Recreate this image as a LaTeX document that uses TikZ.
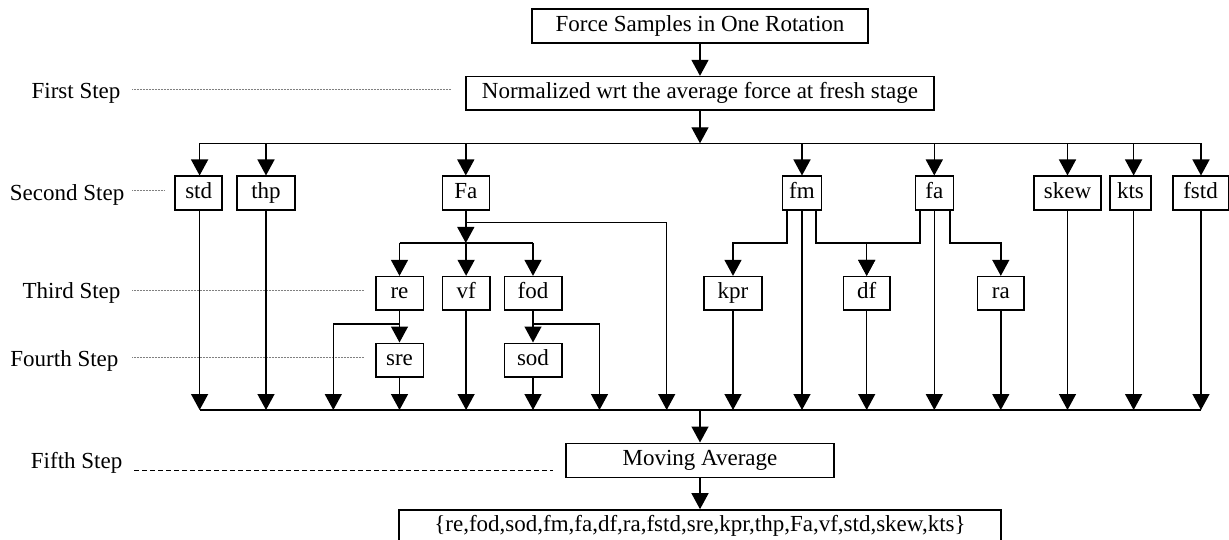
\documentclass[tikz,border=0pt]{standalone}
\usepackage{fontspec}
\setmainfont{Liberation Serif}
\usetikzlibrary{arrows.meta,calc}
\begin{document}
\begin{tikzpicture}[x=1pt,y=-1pt,
  box/.style={draw,line width=1.6pt,fill=white,inner sep=0pt,minimum height=34pt,
    text height=16pt,text depth=5pt,font=\fontsize{23}{26}\selectfont},
  lbl/.style={inner sep=0pt,anchor=east,text height=16pt,text depth=5pt,font=\fontsize{23}{26}\selectfont},
  wire/.style={line width=1.4pt},
  arr/.style={line width=1.4pt,-{Triangle[width=17pt,length=16pt]}},
  dotline/.style={gray,line width=0.7pt,dash pattern=on 0.6pt off 0.9pt},
  dashline/.style={line width=0.9pt,dash pattern=on 4.7pt off 3.3pt}]
\useasboundingbox (0,0) rectangle (1229,540);
% main column
\node[box,minimum width=336pt] (force) at (700,26.3) {Force Samples in One Rotation};
\node[box,minimum width=468pt,minimum height=33.3pt] (norm) at (700,93.3) {Normalized wrt the average force at fresh stage};
% second row
\node[box,minimum width=47pt] (std) at (198.7,193.3) {std};
\node[box,minimum width=57.5pt] (thp) at (266,193.3) {thp};
\node[box,minimum width=47pt] (Fa) at (465.8,193.3) {Fa};
\node[box,minimum width=39pt] (fm) at (802,193.3) {fm};
\node[box,minimum width=38pt] (fa) at (934.3,193.3) {fa};
\node[box,minimum width=67pt] (skew) at (1067.5,193.3) {skew};
\node[box,minimum width=41pt] (kts) at (1130.5,193.3) {kts};
\node[box,minimum width=55.6pt] (fstd) at (1200.5,193.3) {fstd};
% third row
\node[box,minimum width=47.6pt,minimum height=33.3pt] (re) at (399.5,293.3) {re};
\node[box,minimum width=47.6pt,minimum height=33.3pt] (vf) at (466.1,293.3) {vf};
\node[box,minimum width=57.4pt,minimum height=33.3pt] (fod) at (533,293.3) {fod};
\node[box,minimum width=58pt,minimum height=33.3pt] (kpr) at (733,293.3) {kpr};
\node[box,minimum width=46.7pt,minimum height=33.3pt] (df) at (866.7,293.3) {df};
\node[box,minimum width=46.4pt,minimum height=33.3pt] (ra) at (1000.8,293.3) {ra};
% fourth row
\node[box,minimum width=47.6pt,minimum height=33.4pt] (sre) at (399.5,360) {sre};
\node[box,minimum width=57.4pt,minimum height=33.4pt] (sod) at (533,360) {sod};
% fifth
\node[box,minimum width=268pt] (ma) at (700,460.3) {Moving Average};
\node[box,minimum width=602pt,minimum height=32pt] (out) at (700,526) {\{re,fod,sod,fm,fa,df,ra,fstd,sre,kpr,thp,Fa,vf,std,skew,kts\}};
% labels
\node[lbl] (l1) at (120.6,93) {First Step};
\node[lbl] (l2) at (124.5,195) {Second Step};
\node[lbl] (l3) at (120.6,293) {Third Step};
\node[lbl] (l4) at (118.6,360.7) {Fourth Step};
\node[lbl] (l5) at (122.5,462.7) {Fifth Step};
\draw[dotline] ([shift={(11.4,-3.7)}]l1.east) -- ++(319.2,0);
\draw[dotline] ([shift={(7.5,-4.3)}]l2.east) -- ++(32,0);
\draw[dotline] ([shift={(11.4,-2.3)}]l3.east) -- ++(231.6,0);
\draw[dotline] ([shift={(13.4,-3.4)}]l4.east) -- ++(231.6,0);
\draw[dashline] ([shift={(11.5,7.3)}]l5.east) -- ++(419,0);
% buses
\coordinate (tb) at (700,143.3);
\coordinate (bb) at (700,410);
\coordinate (tbL) at (199.6,143.3);
\coordinate (tbR) at (1201,143.3);
\coordinate (br) at (700,243);
\coordinate (rb) at (700,323.8);
\coordinate (faR) at (666.7,222.7);
\coordinate (reL) at (333.3,323.8);
\coordinate (fodR) at (599.5,323.8);
\coordinate (ktsX) at (1133.6,143.3);
\draw[arr] (force.south) -- (norm.north);
\draw[arr] (norm.south) -- (tb);
\draw[wire] (tbL) -- (tbR);
\draw[wire] (tbL |- bb) -- (tbR |- bb);
% top bus to second row
\draw[arr] (tbL) -- (std.north -| tbL);
\foreach \n in {thp,Fa,fm,fa,skew}{\draw[arr] (tb -| \n.north) -- (\n.north);}
\draw[arr] (ktsX) -- (kts.north -| ktsX);
\draw[arr] (tbR) -- (fstd.north -| tbR);
% second row down to bottom bus
\draw[arr] (std.south -| tbL) -- (bb -| tbL);
\foreach \n in {thp,skew,fm,fa}{\draw[arr] (\n.south) -- (\n.south |- bb);}
\draw[arr] (kts.south -| ktsX) -- (bb -| ktsX);
\draw[arr] (fstd.south -| tbR) -- (bb -| tbR);
% Fa
\draw[arr] (Fa.south) |- (faR) -- (faR |- bb);
\draw[arr] (Fa.south) -- (Fa.south |- br);
\draw[wire] (re.north |- br) -- (fod.north |- br);
\foreach \n in {re,vf,fod}{\draw[arr] (\n.north |- br) -- (\n.north);}
% re / fod
\draw[arr] (re.south) -- (sre.north);
\draw[arr] (re.south |- rb) -- (reL) -- (reL |- bb);
\draw[arr] (fod.south) -- (sod.north);
\draw[arr] (fod.south |- rb) -- (fodR) -- (fodR |- bb);
\foreach \n in {sre,vf,sod,kpr,df,ra}{\draw[arr] (\n.south) -- (\n.south |- bb);}
% fm / fa branches
\draw[arr] ([xshift=-15pt]fm.south) |- (kpr.north |- br) -- (kpr.north);
\draw[arr] ([xshift=14pt]fm.south) |- (df.north |- br) -- (df.north);
\draw[arr] ([xshift=-14.5pt]fa.south) |- (df.north |- br) -- (df.north);
\draw[arr] ([xshift=15.5pt]fa.south) |- (ra.north |- br) -- (ra.north);
% bottom
\draw[arr] (bb) -- (ma.north);
\draw[arr] (ma.south) -- (out.north);
\end{tikzpicture}
\end{document}
